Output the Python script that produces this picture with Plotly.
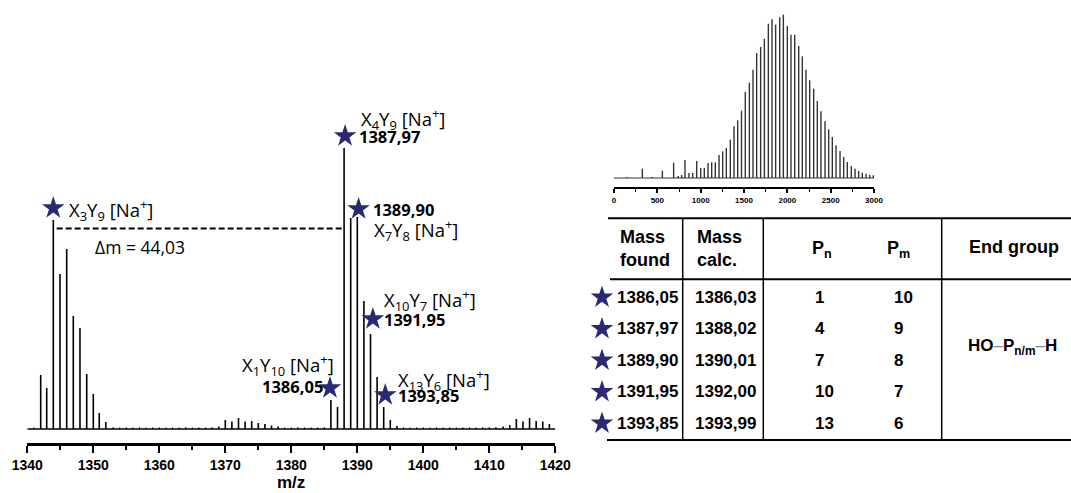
import plotly.graph_objects as go

# ---------------- data ----------------
# main MALDI spectrum (m/z, intensity in arbitrary units)
main_mz = [1342.03, 1342.94, 1343.94, 1344.95, 1345.97, 1346.97, 1347.98, 1349.0, 1350.0, 1350.9, 1351.9,
           1369.0, 1370.0, 1371.0, 1372.0, 1373.0, 1374.0, 1375.0, 1376.0, 1377.0, 1378.0,
           1386.0, 1387.0, 1388.0, 1389.0, 1390.0, 1391.0, 1392.0, 1393.0, 1394.0, 1395.0, 1396.0,
           1412.1, 1413.1, 1414.1, 1415.1, 1416.1, 1417.1, 1418.1, 1419.1]
main_int = [54, 41, 209, 155, 180, 113, 101, 55, 35, 16, 7,
            2.5, 9, 7.5, 11, 7.5, 8, 6, 5, 3.5, 2.5,
            29, 22, 281, 211, 212, 128, 95, 52, 22, 9, 3,
            2.5, 4, 10, 7.5, 11, 8, 7.5, 5]
noise_mz = [1341.0, 1353.0, 1354.0, 1355.0, 1356.0, 1357.0, 1358.0, 1359.0, 1360.0, 1361.0, 1362.0,
            1363.0, 1364.0, 1365.0, 1366.0, 1367.0, 1368.0, 1379.0, 1380.0, 1381.0, 1382.0, 1383.0,
            1384.0, 1385.0, 1397.0, 1398.0, 1399.0, 1400.0, 1401.0, 1402.0, 1403.0, 1404.0, 1405.0,
            1406.0, 1407.0, 1408.0, 1409.0, 1410.0, 1411.0]
noise_int = [1.5, 1.8, 1.5, 1.6, 1.4, 1.7, 1.5, 1.6, 1.5, 1.4, 1.6,
             1.5, 1.7, 1.5, 1.6, 1.5, 1.8, 1.6, 1.5, 1.7, 1.5, 1.6,
             1.5, 1.8, 1.6, 1.5, 1.4, 1.6, 1.5, 1.7, 1.5, 1.4, 1.6,
             1.5, 1.6, 1.5, 1.7, 1.8, 2.0]

# labelled peaks
star_peaks = [1343.94, 1386.0, 1388.0, 1390.0, 1392.0, 1394.0]
star_dx = [0.0, -0.14, 0.15, 0.2, 0.36, 0.24]
star_dy = [12, 12, 12, 8, 15, 12]

# inset: full spectrum overview
inset_mz = [150, 327, 440, 558, 688, 740, 780, 819, 865, 908, 954, 1000, 1042, 1085, 1127, 1169,
            1212, 1254, 1296, 1342, 1385, 1427, 1471, 1515, 1562, 1604, 1646, 1692, 1735, 1781,
            1823, 1865, 1912, 1954, 2000, 2042, 2085, 2131, 2173, 2215, 2258, 2304, 2346, 2388,
            2435, 2477, 2519, 2562, 2608, 2650, 2692, 2738, 2781, 2823, 2865, 2908, 2950, 2992]
inset_int = [1, 9.3, 1, 7.3, 15.3, 2, 3, 18, 5, 5, 17, 10, 10, 15, 15.7, 15.7,
             23, 26.7, 30, 38.3, 51.7, 57.7, 67.3, 86, 95.3, 108.3, 125, 131, 139.3, 154.3,
             158.7, 153.3, 160.7, 163.3, 152, 143.3, 143.3, 132, 121.7, 108.3, 97.7, 89.3, 77, 66.7,
             56.7, 48.7, 41, 32.7, 27, 21, 16, 12, 9.3, 7, 5.3, 4.3, 3.3, 2.7]

# table
mass_found = ["1386,05", "1387,97", "1389,90", "1391,95", "1393,85"]
mass_calc = ["1386,03", "1388,02", "1390,01", "1392,00", "1393,99"]
p_n = ["1", "4", "7", "10", "13"]
p_m = ["10", "9", "8", "7", "6"]

main_range = [1340, 1420]
inset_range = [0, 3000]

# ---------------- helpers ----------------
W, H = 1071, 493
STAR = "#2a2a72"
LBL = "Open Sans"
ARIAL = "Liberation Sans"


def sticks(xs, ys):
    X, Y = [], []
    for x, y in zip(xs, ys):
        X += [x, x, None]
        Y += [0, y, None]
    return X, Y


def py(p):
    return 1 - p / H


fig = go.Figure()

# main spectrum
fig.add_trace(go.Scatter(x=main_range, y=[0, 0], mode="lines", line=dict(color="black", width=1.3),
                         xaxis="x", yaxis="y", hoverinfo="skip"))
nx, ny = sticks(noise_mz, noise_int)
fig.add_trace(go.Scatter(x=nx, y=ny, mode="lines", line=dict(color="black", width=1.2),
                         xaxis="x", yaxis="y", hoverinfo="skip"))
mx, my = sticks(main_mz, main_int)
fig.add_trace(go.Scatter(x=mx, y=my, mode="lines", line=dict(color="black", width=1.6),
                         xaxis="x", yaxis="y"))

peak_h = dict(zip(main_mz, main_int))
sx = [p + d for p, d in zip(star_peaks, star_dx)]
sy = [peak_h[p] + d for p, d in zip(star_peaks, star_dy)]
fig.add_trace(go.Scatter(x=sx, y=sy, mode="markers",
                         marker=dict(symbol="star", size=17, color=STAR, line=dict(width=0)),
                         xaxis="x", yaxis="y"))

# inset spectrum
fig.add_trace(go.Scatter(x=inset_range, y=[0, 0], mode="lines", line=dict(color="#333", width=1.2),
                         xaxis="x2", yaxis="y2", hoverinfo="skip"))
ix, iy = sticks(inset_mz, inset_int)
fig.add_trace(go.Scatter(x=ix, y=iy, mode="lines", line=dict(color="#333", width=1.4),
                         xaxis="x2", yaxis="y2"))

# table stars (pixel overlay axes)
row_y0, row_dy = 297.3, 31.5
row_y = [row_y0 + i * row_dy for i in range(len(mass_found))]
fig.add_trace(go.Scatter(x=[602] * len(row_y), y=row_y, mode="markers",
                         marker=dict(symbol="star", size=17, color=STAR, line=dict(width=0)),
                         xaxis="x3", yaxis="y3"))

# ---------------- layout ----------------
main_dom_x = [27.3 / W, 555.3 / W]
fig.update_layout(
    template="none",
    width=W, height=H, margin=dict(l=0, r=0, t=0, b=0, pad=0, autoexpand=False),
    paper_bgcolor="white", plot_bgcolor="rgba(0,0,0,0)", showlegend=False,
    xaxis=dict(domain=main_dom_x, range=main_range, anchor="y", showgrid=False, zeroline=False,
               automargin=False,
               showline=True, linecolor="black", linewidth=2.5, ticks="outside", ticklen=7,
               tickwidth=2, tickcolor="black", dtick=10, tick0=1340,
               minor=dict(dtick=5, ticks="outside", ticklen=4, tickwidth=2, tickcolor="black", showgrid=False),
               tickfont=dict(family=ARIAL, size=14, color="black", weight="bold")),
    yaxis=dict(domain=[py(443), py(100)], range=[-14, 329], visible=False, anchor="x", automargin=False),
    xaxis2=dict(domain=[614 / W, 874 / W], range=inset_range, anchor="y2", showgrid=False, zeroline=False,
                automargin=False,
                showline=True, linecolor="black", linewidth=1.8, ticks="outside", ticklen=4,
                tickwidth=1.5, tickcolor="black", dtick=500, tick0=0,
                minor=dict(dtick=250, ticks="outside", ticklen=3, tickwidth=1.2, tickcolor="black", showgrid=False),
                tickfont=dict(family=ARIAL, size=8, color="black", weight="bold")),
    yaxis2=dict(domain=[py(187), py(8)], range=[-9, 170], visible=False, anchor="x2", automargin=False),
    xaxis3=dict(domain=[0, 1], range=[0, W], visible=False, anchor="y3", automargin=False),
    yaxis3=dict(domain=[0, 1], range=[H, 0], visible=False, anchor="x3", automargin=False),
)

ann = []


def A(x, y, text, size=18.5, family=LBL, xanchor="left", bold=False, align="left"):
    ann.append(dict(x=x, y=y, xref="x3", yref="y3", text=text, showarrow=False,
                    xanchor=xanchor, yanchor="middle", align=align,
                    font=dict(family=family, size=size, color="black", weight="bold" if bold else "normal")))


def na(a, b):
    return f"X<sub>{a}</sub>Y<sub>{b}</sub> [Na<sup>+</sup>]"


# main chart labels
A(66.7, 210, na(3, 9))
A(92.7, 246.7, "Δm = 44,03", size=17.5)
A(359, 119, na(4, 9))
A(357, 136, "1387,97", size=16.5, bold=True)
A(370.7, 209, "1389,90", size=16.5, bold=True)
A(371.7, 230, na(7, 8))
A(381.7, 300, na(10, 7))
A(381.7, 319, "1391,95", size=16.5, bold=True)
A(336, 365, na(1, 10), xanchor="right")
A(325, 386, "1386,05", size=16.5, bold=True, xanchor="right")
A(396, 380, na(13, 6))
A(396, 395, "1393,85", size=16.5, bold=True)
A(291, 482.5, "m/z", size=17, family=ARIAL, xanchor="center", bold=True)

# table headers
A(618, 248, "Mass<br>found", size=18, family=ARIAL, bold=True)
A(695, 248, "Mass<br>calc.", size=18, family=ARIAL, bold=True)
A(810, 249, "P<sub>n</sub>", size=18, family=ARIAL, bold=True)
A(885, 249, "P<sub>m</sub>", size=18, family=ARIAL, bold=True)
A(967, 247, "End group", size=18, family=ARIAL, bold=True)
for i, yy in enumerate(row_y):
    A(615, yy, mass_found[i], size=17, family=ARIAL, bold=True)
    A(693, yy, mass_calc[i], size=17, family=ARIAL, bold=True)
    A(813, yy, p_n[i], size=17, family=ARIAL, bold=True)
    A(892, yy, p_m[i], size=17, family=ARIAL, bold=True)
A(966, 347, "<b>HO</b><span style='color:#888'>–</span><b>P<sub>n/m</sub></b><span style='color:#888'>–</span><b>H</b>",
  size=17, family=ARIAL)

shapes = [
    # Δm dashed line
    dict(type="line", xref="x", yref="y", x0=1344.45, x1=1388.0, y0=200.5, y1=200.5,
         line=dict(color="black", width=2, dash="6px,3px")),
    # table rules
    dict(type="line", xref="x3", yref="y3", x0=608, x1=W, y0=218.3, y1=218.3, line=dict(color="black", width=2)),
    dict(type="line", xref="x3", yref="y3", x0=610, x1=W, y0=279.3, y1=279.3, line=dict(color="black", width=2)),
    dict(type="line", xref="x3", yref="y3", x0=607, x1=W, y0=440, y1=440, line=dict(color="black", width=2)),
]
for vx in [682.7, 763.3, 941.7]:
    shapes.append(dict(type="line", xref="x3", yref="y3", x0=vx, x1=vx, y0=218.3, y1=440,
                       line=dict(color="black", width=1.5)))

fig.update_layout(annotations=ann, shapes=shapes)
fig.write_html("out.html", config={"displayModeBar": False},
               post_script="document.body.style.margin='0';document.body.style.overflow='hidden';")
